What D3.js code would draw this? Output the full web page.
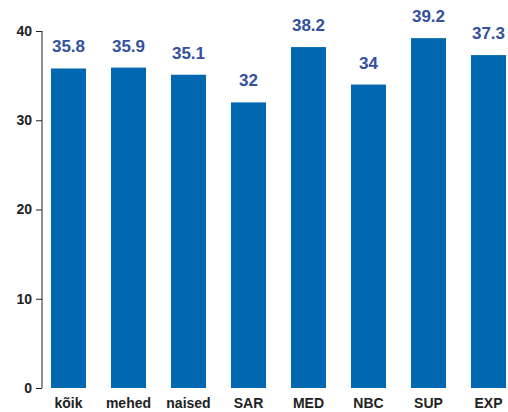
<!DOCTYPE html>
<html>
<head>
<meta charset="utf-8">
<script src="https://cdn.jsdelivr.net/npm/d3@7"></script>
<style>
  body { margin: 0; background: #fff; }
  svg { display: block; font-family: "Liberation Sans", Arial, sans-serif; }
</style>
</head>
<body>
<div id="app"></div>
<script>
// chart data
const categories = ["kõik", "mehed", "naised", "SAR", "MED", "NBC", "SUP", "EXP"];
const values = [35.8, 35.9, 35.1, 32, 38.2, 34, 39.2, 37.3];
const yTicks = [0, 10, 20, 30, 40];

const W = 508, H = 412;
const margin = {top: 31, left: 42, bottom: 24};

const x = d3.scaleBand()
    .domain(categories)
    .range([margin.left, margin.left + 473])
    .paddingInner(0.4167)
    .paddingOuter(0.15);

const y = d3.scaleLinear()
    .domain([0, 40])
    .range([H - margin.bottom, margin.top]);

const svg = d3.select("#app").append("svg")
    .attr("width", W)
    .attr("height", H);

// bars
svg.append("g")
  .selectAll("rect")
  .data(values)
  .join("rect")
    .attr("x", (d, i) => x(categories[i]))
    .attr("y", d => y(d))
    .attr("width", x.bandwidth())
    .attr("height", d => y(0) - y(d))
    .attr("fill", "#0068b1");

// value labels
svg.append("g")
  .selectAll("text")
  .data(values)
  .join("text")
    .attr("x", (d, i) => x(categories[i]) + x.bandwidth() / 2)
    .attr("y", d => y(d) - 16)
    .attr("text-anchor", "middle")
    .attr("font-size", 17)
    .attr("font-weight", "bold")
    .attr("fill", "#34509e")
    .text(d => d);

// y axis
const yAxis = svg.append("g")
    .attr("transform", "translate(" + margin.left + ",0)")
    .call(d3.axisLeft(y).tickValues(yTicks).tickSize(6).tickPadding(4));
yAxis.select(".domain").attr("stroke", "#222").attr("d", "M0," + y(40) + "V" + y(0));
yAxis.selectAll(".tick line").attr("stroke", "#222");
yAxis.selectAll("text")
    .attr("font-size", 14)
    .attr("font-weight", "bold")
    .attr("fill", "#222");

// category labels (the reference crops them at the bottom edge; keep them just inside)
svg.append("g")
  .selectAll("text")
  .data(categories)
  .join("text")
    .attr("x", d => x(d) + x.bandwidth() / 2)
    .attr("y", 408)
    .attr("text-anchor", "middle")
    .attr("font-size", 14)
    .attr("font-weight", "bold")
    .attr("fill", "#222")
    .text(d => d);
</script>
</body>
</html>
